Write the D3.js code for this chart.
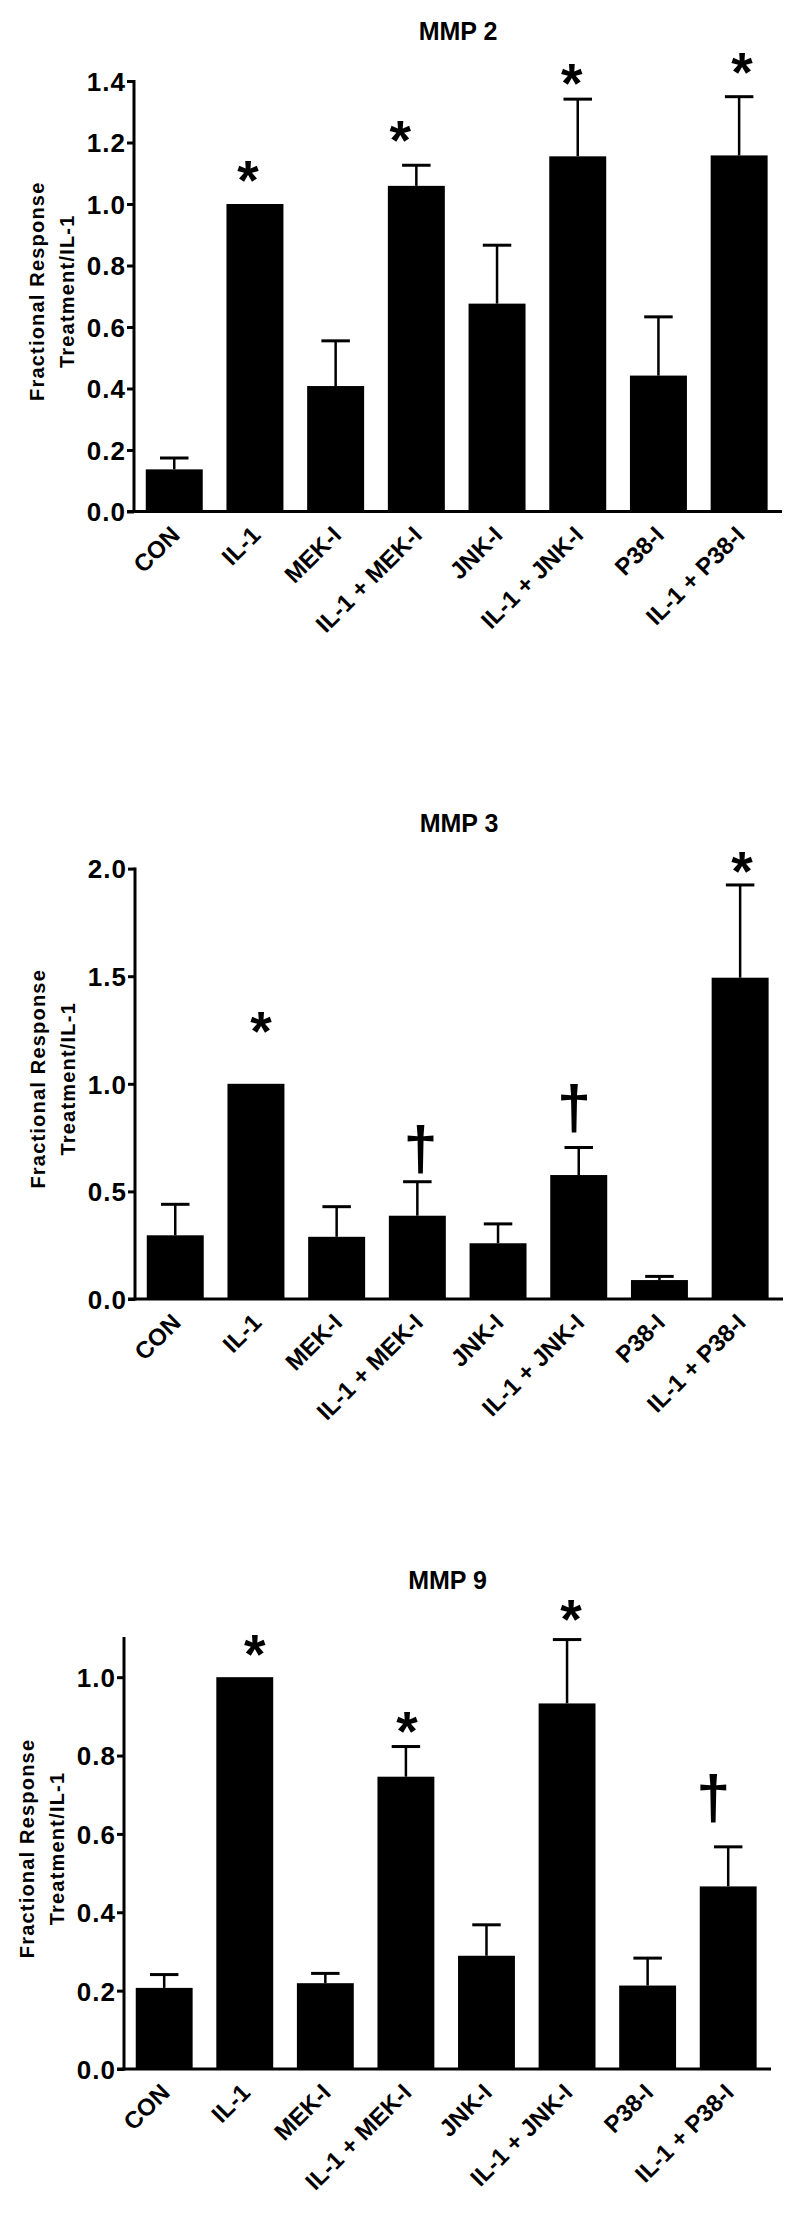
<!DOCTYPE html>
<html>
<head>
<meta charset="utf-8">
<script src="https://cdn.jsdelivr.net/npm/d3@7"></script>
<style>
  body { margin: 0; background: #fff; }
  svg text { font-family: "Liberation Sans", Arial, Helvetica, sans-serif; font-weight: bold; fill: #000; }
</style>
</head>
<body>
<svg id="chart" width="800" height="2214"></svg>
<script>
// groups on the x axis (same for all three panels)
var categories = ["CON", "IL-1", "MEK-I", "IL-1 + MEK-I", "JNK-I", "IL-1 + JNK-I", "P38-I", "IL-1 + P38-I"];

// MMP 2
var mmp2Values = [0.137, 1.0, 0.408, 1.059, 0.676, 1.155, 0.442, 1.158];
var mmp2Sem    = [0.037, 0, 0.147, 0.067, 0.19, 0.186, 0.191, 0.191];
var mmp2Marks  = ["", "*", "", "*", "", "*", "", "*"];
var mmp2MarkAt = [null, 1.107, null, 1.235, null, 1.421, null, 1.456];
var mmp2Ticks  = [0, 0.2, 0.4, 0.6, 0.8, 1.0, 1.2, 1.4];

// MMP 3
var mmp3Values = [0.296, 1.0, 0.289, 0.387, 0.259, 0.576, 0.088, 1.493];
var mmp3Sem    = [0.144, 0, 0.14, 0.158, 0.09, 0.128, 0.017, 0.431];
var mmp3Marks  = ["", "*", "", "\u2020", "", "\u2020", "", "*"];
var mmp3MarkAt = [null, 1.286, null, 0.696, null, 0.89, null, 2.028];
var mmp3Ticks  = [0, 0.5, 1.0, 1.5, 2.0];

// MMP 9
var mmp9Values = [0.207, 1.0, 0.219, 0.746, 0.289, 0.933, 0.213, 0.466];
var mmp9Sem    = [0.034, 0, 0.025, 0.077, 0.079, 0.163, 0.07, 0.101];
var mmp9Marks  = ["", "*", "", "*", "", "*", "", "\u2020"];
var mmp9MarkAt = [null, 1.08, null, 0.885, null, 1.17, null, 0.693];
var mmp9Ticks  = [0, 0.2, 0.4, 0.6, 0.8, 1.0];

var FONT = '"Liberation Sans", Arial, Helvetica, sans-serif';
var svg = d3.select("#chart");
var ctx = document.createElement("canvas").getContext("2d");

// ink box of a glyph, so the marks can be sized and centred on their ink
function ink(ch, size) {
  ctx.font = "bold " + size + "px " + FONT;
  var m = ctx.measureText(ch);
  return { asc: m.actualBoundingBoxAscent, desc: m.actualBoundingBoxDescent,
           left: m.actualBoundingBoxLeft, right: m.actualBoundingBoxRight };
}
function markStyle(ch) {
  var target = ch === "*" ? 21 : 49;
  var m = ink(ch, 100);
  var size = 100 * target / (m.asc + m.desc);
  var k = size / 100;
  return { size: size, dx: -(m.right - m.left) / 2 * k, dy: (m.asc - m.desc) / 2 * k };
}

function drawPanel(o) {
  var x = d3.scaleBand()
    .domain(categories)
    .range([o.left, o.right])
    .paddingInner(0.294)
    .paddingOuter(0.162)
    .align(0.45);

  var y = d3.scaleLinear()
    .domain([0, o.yMax])
    .range([o.bottom, o.top]);

  var g = svg.append("g");

  var rows = categories.map(function (c, i) {
    return { cat: c, v: o.values[i], sem: o.sem[i], mark: o.marks[i], markAt: o.markAt[i], shift: o.markShift[i] || 0 };
  });

  // title
  g.append("text")
    .attr("x", (o.left + o.right) / 2)
    .attr("y", o.titleY)
    .attr("text-anchor", "middle")
    .style("font-size", "25px")
    .text(o.title);

  // error bars (upper only)
  var eb = g.append("g").selectAll("g")
    .data(rows.filter(function (d) { return d.sem > 0; }))
    .enter().append("g");
  eb.append("line")
    .attr("x1", function (d) { return x(d.cat) + x.bandwidth() / 2; })
    .attr("x2", function (d) { return x(d.cat) + x.bandwidth() / 2; })
    .attr("y1", function (d) { return y(d.v); })
    .attr("y2", function (d) { return y(d.v + d.sem); })
    .attr("stroke", "#000").attr("stroke-width", 2.5);
  eb.append("line")
    .attr("x1", function (d) { return x(d.cat) + x.bandwidth() / 4; })
    .attr("x2", function (d) { return x(d.cat) + x.bandwidth() * 3 / 4; })
    .attr("y1", function (d) { return y(d.v + d.sem); })
    .attr("y2", function (d) { return y(d.v + d.sem); })
    .attr("stroke", "#000").attr("stroke-width", 3);

  // bars
  g.append("g").selectAll("rect")
    .data(rows)
    .enter().append("rect")
    .attr("x", function (d) { return x(d.cat); })
    .attr("y", function (d) { return y(d.v); })
    .attr("width", x.bandwidth())
    .attr("height", function (d) { return y(0) - y(d.v); })
    .attr("fill", "#000");

  // significance marks
  g.append("g").selectAll("text")
    .data(rows.filter(function (d) { return d.mark; }))
    .enter().append("text")
    .each(function (d) {
      var s = markStyle(d.mark);
      d3.select(this)
        .attr("x", x(d.cat) + x.bandwidth() / 2 + d.shift + s.dx)
        .attr("y", y(d.markAt) + s.dy)
        .style("font-size", s.size + "px");
    })
    .text(function (d) { return d.mark; });

  // y axis
  var yAxis = g.append("g")
    .attr("transform", "translate(" + o.left + ",0)")
    .call(d3.axisLeft(y).tickValues(o.ticks).tickFormat(d3.format(".1f")).tickSize(7).tickSizeOuter(0));
  yAxis.select(".domain").remove();
  yAxis.selectAll(".tick line").attr("stroke", "#000").attr("stroke-width", 3);
  yAxis.selectAll(".tick text")
    .attr("x", -8)
    .attr("dy", "0.36em")
    .style("font-size", "26px")
    .style("letter-spacing", "1px")
    .style("font-family", null);
  g.append("line")
    .attr("x1", o.left).attr("x2", o.left)
    .attr("y1", y(o.yMax) - 1).attr("y2", y(0) + 1.5)
    .attr("stroke", "#000").attr("stroke-width", 3);

  // x axis line + rotated labels
  g.append("line")
    .attr("x1", o.left - 7).attr("x2", o.right)
    .attr("y1", y(0)).attr("y2", y(0))
    .attr("stroke", "#000").attr("stroke-width", 3);

  g.append("g").selectAll("text")
    .data(categories)
    .enter().append("text")
    .attr("transform", function (d) {
      return "translate(" + (x(d) + x.bandwidth() / 2 + 7) + "," + (y(0) + 25) + ") rotate(-45)";
    })
    .attr("text-anchor", "end")
    .style("font-size", "24px")
    .text(function (d) { return d; });

  // y axis title
  var cy = (o.top + o.bottom) / 2 - 5;
  var yt = g.append("text")
    .attr("transform", "translate(" + (o.left - 90) + "," + cy + ") rotate(-90)")
    .attr("text-anchor", "middle")
    .style("font-size", "20px")
    .style("letter-spacing", "1.2px");
  yt.append("tspan").attr("x", 0).attr("y", 0).text("Fractional Response");
  yt.append("tspan").attr("x", 0).attr("y", 30).text("Treatment/IL-1");
}

drawPanel({ title: "MMP 2", values: mmp2Values, sem: mmp2Sem, marks: mmp2Marks, markAt: mmp2MarkAt,
  markShift: [0, -7, 0, -16, 0, -6, 0, 3],
  ticks: mmp2Ticks, yMax: 1.4, left: 134, right: 782, top: 81, bottom: 511.5, titleY: 40 });

drawPanel({ title: "MMP 3", values: mmp3Values, sem: mmp3Sem, marks: mmp3Marks, markAt: mmp3MarkAt,
  markShift: [0, 5, 0, 3, 0, -5, 0, 2],
  ticks: mmp3Ticks, yMax: 2.0, left: 135, right: 783, top: 868.6, bottom: 1299, titleY: 832 });

drawPanel({ title: "MMP 9", values: mmp9Values, sem: mmp9Sem, marks: mmp9Marks, markAt: mmp9MarkAt,
  markShift: [0, 10, 0, 1, 0, 4, 0, -15],
  ticks: mmp9Ticks, yMax: 1.1, left: 124, right: 771, top: 1638, bottom: 2069, titleY: 1589 });
</script>
</body>
</html>
